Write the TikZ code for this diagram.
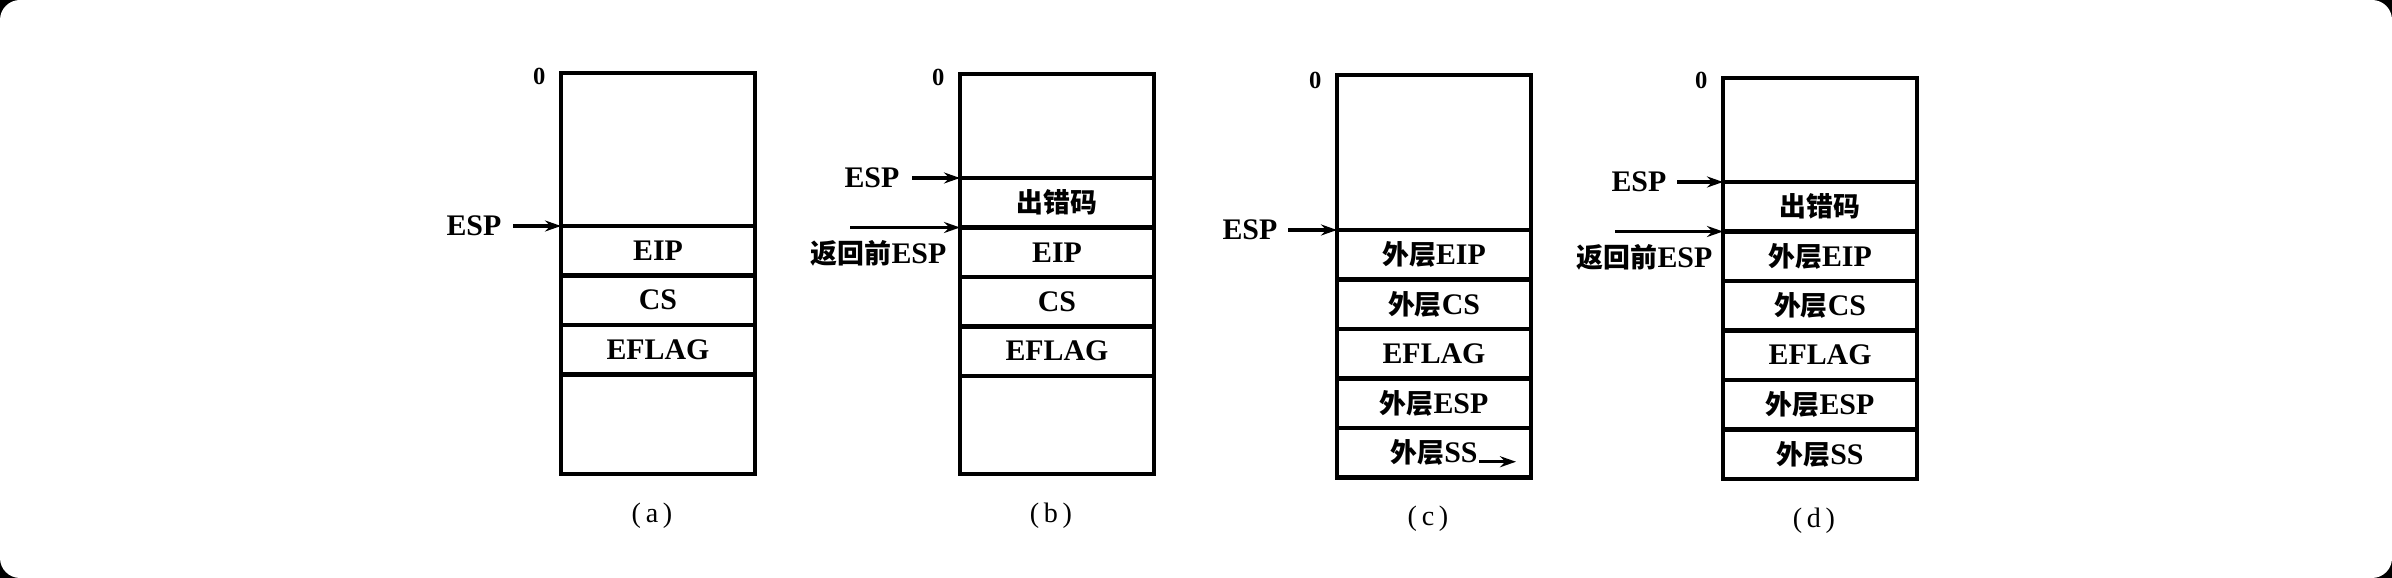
\documentclass[tikz,border=0pt]{standalone}
\usepackage{fontspec}
\setmainfont{Liberation Serif}
\newfontfamily\cjk{Noto Sans CJK SC}[Scale=0.9]
\usetikzlibrary{positioning,arrows.meta}
\newcommand{\zh}[1]{{\cjk #1}}

\tikzset{
  cell/.style={draw, line width=1.2pt, minimum width=19.4mm, inner sep=0pt, outer sep=0pt,
    font=\bfseries\fontsize{8.5}{10}\selectfont},
  slot/.style={cell, minimum height=4.95mm},
  lbl/.style={inner sep=0pt, font=\bfseries\fontsize{8.5}{10}\selectfont},
  zero/.style={inner sep=0pt, font=\bfseries\fontsize{7}{8}\selectfont},
  captxt/.style={inner sep=0pt, xshift=-0.6mm, font=\fontsize{8}{9}\selectfont},
  ptr/.style={line width=1pt, -{Stealth[length=1.6mm,width=1.1mm]}},
}

\begin{document}
\begin{tikzpicture}[x=0.1mm, y=-0.1mm]
  \useasboundingbox (0,0) rectangle (2392,578);
  \fill[black] (0,0) rectangle (2392,578);
  \fill[white, rounded corners=2mm] (0,0) rectangle (2392,578);

  % (a)
  \node[cell, anchor=north west, minimum height=15.3mm] (a0) at (561,73) {};
  \node[slot, below=0pt of a0] (a1) {EIP};
  \node[slot, below=0pt of a1] (a2) {CS};
  \node[slot, below=0pt of a2] (a3) {EFLAG};
  \node[cell, minimum height=9.95mm, below=0pt of a3] (a4) {};
  \node[zero, left=1.5mm of a0.north west, yshift=-0.3mm] (az) {0};
  \node[lbl, left=5.9mm of a0.south west] (aesp) {ESP};
  \node[captxt, below=2.8mm of a4.south] (acap) {(\,a\,)};
  \draw[ptr, shorten <=1.1mm] (aesp.east) -- (a0.south west);

  % (b)
  \node[cell, anchor=north west, minimum height=10.4mm] (b0) at (960,74) {};
  \node[slot, below=0pt of b0] (b1) {\zh{出错码}};
  \node[slot, below=0pt of b1] (b2) {EIP};
  \node[slot, below=0pt of b2] (b3) {CS};
  \node[slot, below=0pt of b3] (b4) {EFLAG};
  \node[cell, minimum height=9.8mm, below=0pt of b4] (b5) {};
  \node[zero, left=1.5mm of b0.north west, yshift=-0.3mm] (bz) {0};
  \node[lbl, left=6mm of b0.south west] (besp) {ESP};
  \node[lbl, left=1.3mm of b1.south west, yshift=-2.55mm] (bret) {\zh{返回前}ESP};
  \coordinate[left=11mm of b1.south west] (bfrom);
  \node[captxt, below=2.8mm of b5.south] (bcap) {(\,b\,)};
  \draw[ptr, shorten <=1.2mm] (besp.east) -- (b0.south west);
  \draw[ptr] (bfrom) -- (b1.south west);

  % (c)
  \node[cell, anchor=north west, minimum height=15.5mm] (c0) at (1337,75) {};
  \node[slot, below=0pt of c0] (c1) {\zh{外层}EIP};
  \node[slot, below=0pt of c1] (c2) {\zh{外层}CS};
  \node[slot, below=0pt of c2] (c3) {EFLAG};
  \node[slot, below=0pt of c3] (c4) {\zh{外层}ESP};
  \node[slot, below=0pt of c4] (c5) {\zh{外层}SS};
  \node[zero, left=1.5mm of c0.north west, yshift=-0.5mm] (cz) {0};
  \node[lbl, left=5.9mm of c0.south west] (cesp) {ESP};
  \node[captxt, below=2.8mm of c5.south] (ccap) {(\,c\,)};
  \coordinate[left=1.5mm of c5.east, yshift=-0.9mm] (cssto);
  \coordinate[left=3.7mm of cssto] (cssfrom);
  \draw[ptr, shorten <=1mm] (cesp.east) -- (c0.south west);
  \draw[ptr] (cssfrom) -- (cssto);

  % (d)
  \node[cell, anchor=north west, minimum height=10.4mm] (d0) at (1723,78) {};
  \node[slot, below=0pt of d0] (d1) {\zh{出错码}};
  \node[slot, below=0pt of d1] (d2) {\zh{外层}EIP};
  \node[slot, below=0pt of d2] (d3) {\zh{外层}CS};
  \node[slot, below=0pt of d3] (d4) {EFLAG};
  \node[slot, below=0pt of d4] (d5) {\zh{外层}ESP};
  \node[slot, below=0pt of d5] (d6) {\zh{外层}SS};
  \node[zero, left=1.5mm of d0.north west, yshift=-0.2mm] (dz) {0};
  \node[lbl, left=5.6mm of d0.south west] (desp) {ESP};
  \node[lbl, left=1mm of d1.south west, yshift=-2.6mm] (dret) {\zh{返回前}ESP};
  \coordinate[left=10.8mm of d1.south west] (dfrom);
  \node[captxt, below=2.8mm of d6.south] (dcap) {(\,d\,)};
  \draw[ptr, shorten <=1mm] (desp.east) -- (d0.south west);
  \draw[ptr] (dfrom) -- (d1.south west);
\end{tikzpicture}
\end{document}
